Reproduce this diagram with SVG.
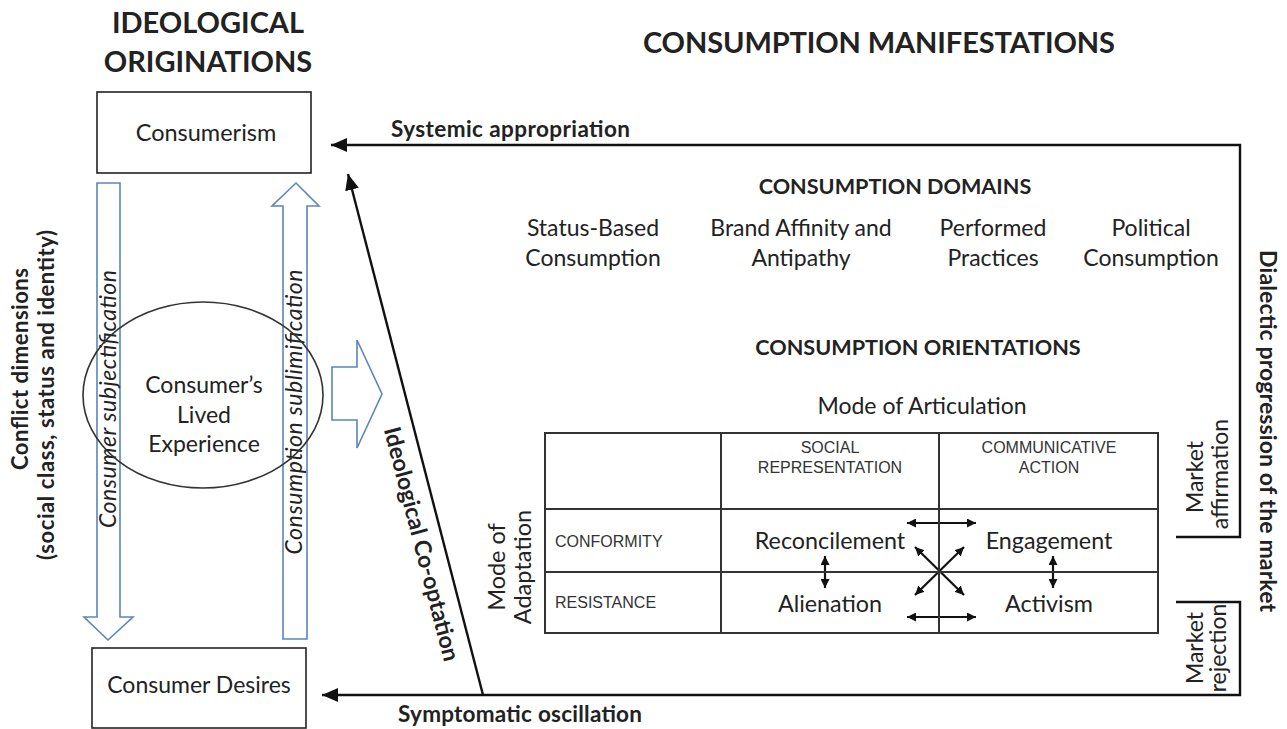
<svg xmlns="http://www.w3.org/2000/svg" width="1287" height="729" viewBox="0 0 1287 729">
<style>
.t{font-family:Lato,"Open Sans","Liberation Sans",sans-serif;fill:#222}
.b{font-weight:bold}
.a{font-family:"Liberation Sans",Arial,sans-serif;fill:#333;font-size:16px}
.box{fill:#fff;stroke:#222;stroke-width:1.6}
.blue{fill:#fff;stroke:#5a86b8;stroke-width:1.6}
.ln{fill:none;stroke:#111;stroke-width:2.4}
.sm{fill:none;stroke:#111;stroke-width:2.2}
.grid{fill:none;stroke:#333;stroke-width:2}
</style>
<defs>
<marker id="big" markerUnits="userSpaceOnUse" markerWidth="18" markerHeight="14" refX="16" refY="7" orient="auto"><path d="M0,0 L16,7 L0,14 Z" fill="#111"/></marker>
<marker id="sh" markerUnits="userSpaceOnUse" markerWidth="10" markerHeight="9" refX="9" refY="4.5" orient="auto"><path d="M0,0 L9,4.5 L0,9 Z" fill="#111"/></marker>
<marker id="ss" markerUnits="userSpaceOnUse" markerWidth="10" markerHeight="9" refX="1" refY="4.5" orient="auto"><path d="M10,0 L1,4.5 L10,9 Z" fill="#111"/></marker>
</defs>
<rect width="1287" height="729" fill="#fff"/>

<g id="titles">
<text class="t b" x="208" y="33" font-size="29" text-anchor="middle">IDEOLOGICAL</text>
<text class="t b" x="208" y="72" font-size="29" text-anchor="middle">ORIGINATIONS</text>
<text class="t b" x="879" y="53" font-size="29" text-anchor="middle" textLength="472">CONSUMPTION MANIFESTATIONS</text>
</g>

<g id="conflict-dimensions">
<text class="t b" font-size="22" text-anchor="middle" textLength="202" transform="translate(28,369) rotate(-90)">Conflict dimensions</text>
<text class="t b" font-size="22" text-anchor="middle" textLength="330" transform="translate(54,395) rotate(-90)">(social class, status and identity)</text>
</g>

<g id="consumerism">
<rect class="box" x="97" y="92" width="214" height="81"/>
<text class="t" x="206" y="141" font-size="23.5" text-anchor="middle">Consumerism</text>
</g>

<g id="consumer-desires">
<rect class="box" x="92" y="648" width="214" height="80"/>
<text class="t" x="199" y="693" font-size="23" text-anchor="middle">Consumer Desires</text>
</g>

<g id="consumer-subjectification">
<polygon class="blue" points="97,183 120,183 120,617 133,617 108,640 84,617 97,617"/>
<text class="t" font-size="23" font-style="italic" text-anchor="middle" textLength="258" transform="translate(116,399) rotate(-90)">Consumer subjectification</text>
</g>

<g id="consumption-sublimification">
<polygon class="blue" points="283,639 307,639 307,206 319,206 296,183 272,206 283,206"/>
<text class="t" font-size="23" font-style="italic" text-anchor="middle" textLength="285" transform="translate(302,412) rotate(-90)">Consumption sublimification</text>
</g>

<g id="lived-experience">
<ellipse cx="203" cy="395" rx="120" ry="93" fill="none" stroke="#333" stroke-width="1.6"/>
<text class="t" x="204" y="393" font-size="23" text-anchor="middle">Consumer’s</text>
<text class="t" x="204" y="423" font-size="23" text-anchor="middle">Lived</text>
<text class="t" x="204" y="452" font-size="23" text-anchor="middle">Experience</text>
</g>

<g id="manifest-arrow">
<polygon class="blue" points="332,367 357,367 357,340 382,394 357,448 357,420 332,420"/>
</g>

<g id="connectors">
<path class="ln" d="M1176,537 H1240 V145 H331" marker-end="url(#big)"/>
<path class="ln" d="M1176,602 H1240 V695 H322" marker-end="url(#big)"/>
<path class="ln" d="M483,695 L348,174" marker-end="url(#big)"/>
<path class="sm" d="M825,556 V588" marker-start="url(#ss)" marker-end="url(#sh)"/>
<path class="sm" d="M1053,556 V588" marker-start="url(#ss)" marker-end="url(#sh)"/>
<path class="sm" d="M907,523 H976" marker-start="url(#ss)" marker-end="url(#sh)"/>
<path class="sm" d="M907,617 H976" marker-start="url(#ss)" marker-end="url(#sh)"/>
<path class="sm" d="M915,547 L964,595" marker-start="url(#ss)" marker-end="url(#sh)"/>
<path class="sm" d="M964,547 L915,595" marker-start="url(#ss)" marker-end="url(#sh)"/>
</g>

<g id="connector-labels">
<text class="t b" x="391" y="137" font-size="22.5" textLength="239">Systemic appropriation</text>
<text class="t b" x="398" y="722" font-size="22.5" textLength="244">Symptomatic oscillation</text>
<text class="t b" font-size="23" text-anchor="middle" textLength="241" transform="translate(414,546) rotate(75.4)">Ideological Co-optation</text>
<text class="t b" font-size="23" text-anchor="middle" textLength="362" transform="translate(1260,431) rotate(90)">Dialectic progression of the market</text>
<text class="t" font-size="23" text-anchor="middle" transform="translate(1203,477) rotate(-90)">Market</text>
<text class="t" font-size="23" text-anchor="middle" transform="translate(1228,474) rotate(-90)">affirmation</text>
<text class="t" font-size="23" text-anchor="middle" transform="translate(1203,648) rotate(-90)">Market</text>
<text class="t" font-size="23" text-anchor="middle" transform="translate(1226,648) rotate(-90)">rejection</text>
</g>

<g id="consumption-domains">
<text class="t b" x="895" y="194" font-size="21.6" text-anchor="middle">CONSUMPTION DOMAINS</text>
<text class="t" x="593" y="236" font-size="23" text-anchor="middle">Status-Based</text>
<text class="t" x="593" y="266" font-size="23" text-anchor="middle">Consumption</text>
<text class="t" x="801" y="236" font-size="23" text-anchor="middle">Brand Affinity and</text>
<text class="t" x="801" y="266" font-size="23" text-anchor="middle">Antipathy</text>
<text class="t" x="993" y="236" font-size="23" text-anchor="middle">Performed</text>
<text class="t" x="993" y="266" font-size="23" text-anchor="middle">Practices</text>
<text class="t" x="1151" y="236" font-size="23" text-anchor="middle">Political</text>
<text class="t" x="1151" y="266" font-size="23" text-anchor="middle">Consumption</text>
</g>

<g id="consumption-orientations">
<text class="t b" x="918" y="355" font-size="21.6" text-anchor="middle">CONSUMPTION ORIENTATIONS</text>
<text class="t" x="922" y="414" font-size="23" text-anchor="middle">Mode of Articulation</text>
<text class="t" font-size="23.5" text-anchor="middle" transform="translate(505,567) rotate(-90)">Mode of</text>
<text class="t" font-size="23.5" text-anchor="middle" transform="translate(531,567) rotate(-90)">Adaptation</text>
<rect class="grid" x="545" y="433" width="613" height="200"/>
<path class="grid" d="M721,433 V633 M939,433 V633 M545,509 H1158 M545,572 H1158"/>
<text class="a" x="830" y="453" text-anchor="middle">SOCIAL</text>
<text class="a" x="830" y="473" text-anchor="middle">REPRESENTATION</text>
<text class="a" x="1049" y="453" text-anchor="middle">COMMUNICATIVE</text>
<text class="a" x="1049" y="473" text-anchor="middle">ACTION</text>
<text class="a" x="555" y="547">CONFORMITY</text>
<text class="a" x="555" y="608">RESISTANCE</text>
<text class="t" x="830" y="549" font-size="23.3" text-anchor="middle">Reconcilement</text>
<text class="t" x="1049" y="549" font-size="23.3" text-anchor="middle">Engagement</text>
<text class="t" x="830" y="612" font-size="23.3" text-anchor="middle">Alienation</text>
<text class="t" x="1049" y="612" font-size="23.3" text-anchor="middle">Activism</text>
</g>
</svg>
